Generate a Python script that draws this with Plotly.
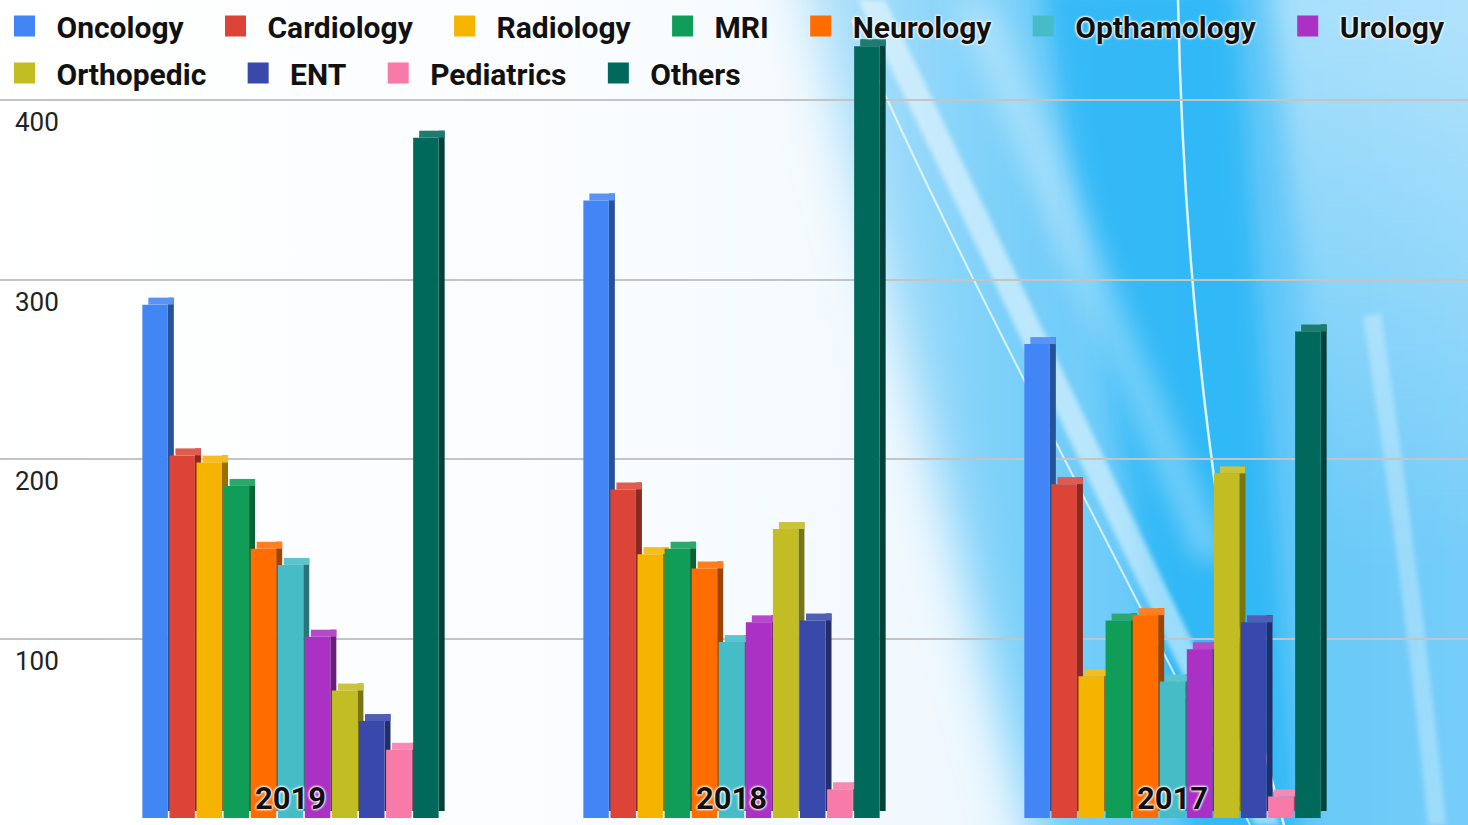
import base64
import plotly.graph_objects as go

# ---------------- data ----------------
years = ["2019", "2018", "2017"]
departments = ["Oncology", "Cardiology", "Radiology", "MRI", "Neurology", "Opthamology",
               "Urology", "Orthopedic", "ENT", "Pediatrics", "Others"]
oncology = [286, 344, 264]
cardiology = [202, 183, 186]
radiology = [198, 147, 79]
mri = [185, 150, 110]
neurology = [150, 139, 113]
opthamology = [141, 98, 76]
urology = [101, 109, 94]
orthopedic = [71, 161, 192]
ent = [54, 110, 109]
pediatrics = [38, 16, 12]
others = [379, 430, 271]
y_ticks = [100, 200, 300, 400]

series_values = [oncology, cardiology, radiology, mri, neurology, opthamology,
                 urology, orthopedic, ent, pediatrics, others]
colors = ["#4285F4", "#DB4437", "#F4B400", "#0F9D58", "#FF6D01", "#46BDC6",
          "#AB30C4", "#C2BD22", "#3949AB", "#F77AA8", "#00695C"]

# ---------------- geometry (style) ----------------
W, H = 1468, 825
ML = 0
PX_PER_CAT = 441.0
PX_PER_VAL = 1.795
pitch = 27.08 / PX_PER_CAT
face = 25.5 / PX_PER_CAT
dx = 6.0 / PX_PER_CAT
dy = 7.0 / PX_PER_VAL
start = -(10 * pitch + face) / 2
NB = "\u00a0"


def shade(hexc, f):
    r, g, b = int(hexc[1:3], 16), int(hexc[3:5], 16), int(hexc[5:7], 16)
    if f < 1:
        r, g, b = int(r * f), int(g * f), int(b * f)
    else:
        t = f - 1
        r, g, b = int(r + (255 - r) * t), int(g + (255 - g) * t), int(b + (255 - b) * t)
    return f"rgb({r},{g},{b})"


fig = go.Figure()
for i, (name, vals, col) in enumerate(zip(departments, series_values, colors)):
    off = start + i * pitch
    # side face
    fig.add_trace(go.Bar(x=years, y=vals, base=[dy] * len(vals), offset=off + face, width=dx,
                         marker=dict(color=shade(col, 0.62), line=dict(width=0)),
                         showlegend=False, hoverinfo="skip"))
    # top face
    fig.add_trace(go.Bar(x=years, y=[dy] * len(vals), base=vals, offset=off + dx, width=face,
                         marker=dict(color=shade(col, 1.12), line=dict(width=0)),
                         showlegend=False, hoverinfo="skip"))
    # front face
    fig.add_trace(go.Bar(x=years, y=vals, offset=off, width=face, name=name,
                         marker=dict(color=col, line=dict(width=0)),
                         showlegend=False, legendgroup=name))

for name, col in zip(departments, colors):
    trail = "" if name == "Urology" else NB * 3
    fig.add_trace(go.Scatter(x=[None], y=[None], mode="markers", name=NB + name + trail,
                             legendgroup=name,
                             marker=dict(symbol="square", size=30, color=col,
                                         line=dict(color=col, width=6))))

# ---------------- background picture (svg gradient) ----------------
svg = f'''<svg xmlns="http://www.w3.org/2000/svg" width="{W}" height="{H}" viewBox="0 0 {W} {H}" preserveAspectRatio="none">
<defs>
<linearGradient id="base" x1="0" y1="0" x2="1" y2="0">
<stop offset="0" stop-color="#ffffff"/>
<stop offset="0.45" stop-color="#f9fcfe"/>
<stop offset="0.66" stop-color="#eff8fe"/>
<stop offset="1" stop-color="#d0ecfc"/>
</linearGradient>
<linearGradient id="blue" x1="0" y1="0" x2="1" y2="0">
<stop offset="0" stop-color="#b8e3fa"/>
<stop offset="0.3" stop-color="#78cff9"/>
<stop offset="0.6" stop-color="#62c7f8"/>
<stop offset="1" stop-color="#7ccff9"/>
</linearGradient>
<linearGradient id="rt" x1="0" y1="0" x2="0" y2="1">
<stop offset="0" stop-color="#ffffff" stop-opacity="0.45"/>
<stop offset="1" stop-color="#ffffff" stop-opacity="0"/>
</linearGradient>
<filter id="b1" x="-30%" y="-30%" width="160%" height="160%"><feGaussianBlur stdDeviation="26"/></filter>
<filter id="b2" x="-30%" y="-30%" width="160%" height="160%"><feGaussianBlur stdDeviation="12"/></filter>
<filter id="b3" x="-30%" y="-30%" width="160%" height="160%"><feGaussianBlur stdDeviation="2.5"/></filter>
</defs>
<rect width="{W}" height="{H}" fill="url(#base)"/>
<polygon points="790,-60 1540,-60 1540,890 1050,890" fill="url(#blue)" filter="url(#b1)"/>
<polygon points="1040,-20 1235,-20 1300,845 1190,845" fill="#1fb2f6" opacity="0.7" filter="url(#b2)"/>
<polygon points="1270,-20 1500,-20 1500,560 1330,560" fill="url(#rt)" filter="url(#b2)"/>
<polygon points="950,0 995,0 1230,560 1195,560" fill="#ffffff" opacity="0.3" filter="url(#b2)"/>
<polygon points="858,0 885,0 1280,825 1255,825" fill="#ffffff" opacity="0.5" filter="url(#b3)"/>
<path d="M852,20 C950,250 1120,560 1250,825" stroke="#ffffff" stroke-width="2" fill="none" opacity="0.7"/>
<path d="M1178,0 C1184,300 1220,600 1284,825" stroke="#ffffff" stroke-width="2.5" fill="none" opacity="0.85"/>
<path d="M1372,315 C1400,500 1425,700 1437,825" stroke="#ffffff" stroke-width="18" fill="none" opacity="0.3" filter="url(#b3)"/>
</svg>'''
src = "data:image/svg+xml;base64," + base64.b64encode(svg.encode()).decode()
pw = W - ML
fig.add_layout_image(dict(source=src, xref="paper", yref="paper", x=-ML / pw, y=1,
                          sizex=W / pw, sizey=1, sizing="stretch", layer="below",
                          xanchor="left", yanchor="top"))

halo = "0 0 3px #fff, 0 0 3px #fff, 0 0 2px #fff, 0 0 2px #fff"
cat_min = -(290.5 - ML) / PX_PER_CAT
cat_max = cat_min + pw / PX_PER_CAT
v_min = -(H - 818) / PX_PER_VAL
v_max = 818 / PX_PER_VAL

fig.update_layout(
    width=W, height=H,
    margin=dict(l=ML, r=0, t=0, b=0),
    barmode="overlay",
    paper_bgcolor="white",
    plot_bgcolor="rgba(0,0,0,0)",
    font=dict(family="Roboto, Arial, sans-serif"),
    legend=dict(orientation="h", x=0, y=1, xanchor="left", yanchor="top",
                traceorder="grouped", tracegroupgap=5,
                bgcolor="rgba(0,0,0,0)", itemwidth=39,
                font=dict(size=30, color="#111", weight="bold", shadow=halo),
                itemclick=False, itemdoubleclick=False),
    xaxis=dict(type="category", categoryorder="array", categoryarray=years,
               range=[cat_min, cat_max], showgrid=False, showline=False, zeroline=False,
               ticks="", ticklabelposition="inside", ticklabelstandoff=7,
               tickfont=dict(size=31, color="#111", weight="bold", shadow=halo)),
    yaxis=dict(range=[v_min, v_max], tickvals=y_ticks, ticklabelposition="inside",
               ticks="", showgrid=True, gridcolor="#c4c4c4", gridwidth=2,
               zeroline=True, zerolinecolor="#444", zerolinewidth=2, showline=False,
               ticklabelshift=22, ticklabelstandoff=12,
               tickfont=dict(size=26, color="#222", shadow=halo)),
)

fig.write_html("out.html", config={"displayModeBar": False},
               post_script="document.body.style.margin='0';")
